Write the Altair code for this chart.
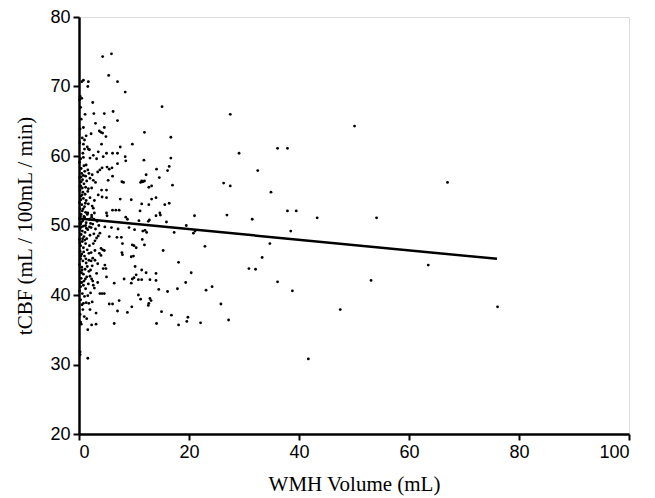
import altair as alt
import pandas as pd

# ---- scatter points: (WMH volume mL, tCBF) ----
sparse_pts = [
    (27.5,66.0),(50.1,64.3),(29.1,60.4),(36.1,61.1),(37.9,61.1),(32.5,57.9),(26.3,56.1),(27.5,55.7),
    (34.9,54.8),(21.0,51.4),(26.9,51.5),(31.5,50.9),(37.9,52.1),(39.5,52.1),(43.3,51.1),(19.5,50.0),
    (20.8,48.9),(21.1,49.2),(38.5,49.2),(22.9,47.0),(34.7,47.4),(33.3,45.4),(30.9,43.8),(32.1,43.7),
    (20.4,43.2),(36.1,41.9),(19.4,41.8),(23.1,40.7),(24.2,41.2),(38.8,40.6),(25.8,38.7),(47.5,37.9),
    (19.8,36.8),(19.6,36.2),(22.1,36.0),(27.2,36.4),(41.7,30.8),(67.0,56.2),(54.1,51.1),(63.5,44.3),
    (53.1,42.1),(76.1,38.3),
]
upper_pts = [
    (4.3,74.3),(5.9,74.7),(5.4,71.6),(7.0,70.7),(8.4,69.2),(2.5,67.7),(15.1,67.1),(2.7,66.1),(4.6,66.1),
    (6.2,66.4),(7.0,65.1),(3.0,64.7),(4.6,64.1),(4.0,63.4),(3.7,63.6),(4.3,63.3),(4.9,62.8),(2.2,63.2),
    (11.9,63.4),(16.7,62.7),(4.1,61.7),(9.7,61.7),(7.5,61.3),(2.6,60.1),(3.5,60.6),(5.0,60.4),(6.1,60.4),
    (7.0,60.4),(4.4,59.9),(2.0,59.7),(3.2,59.6),(8.4,59.9),(8.5,59.3),(11.8,59.4),(16.7,59.7),(7.0,58.9),
    (16.4,58.5),(16.1,57.9),(14.1,58.1),(4.2,58.3),(3.8,58.0),(3.4,57.7),(5.1,58.4),(6.0,58.3),(5.5,58.1),
    (6.1,57.1),(12.2,57.3),(14.6,56.9),(2.0,56.8),(2.6,56.5),(3.0,56.2),(5.3,56.5),(7.8,56.3),(8.1,56.2),
    (11.6,56.3),(11.9,56.4),(13.2,55.7),(17.0,55.8),(11.4,56.4),(11.2,56.2),(13.2,53.8),
    (0.8,70.9),(0.5,70.7),(1.7,70.7),(1.6,70.0),(0.2,68.6),(0.5,68.3),(0.1,68.1),(1.1,66.0),(0.8,64.1),
    (1.3,62.9),(1.0,62.3),(0.8,61.7),(1.5,61.3),(1.7,61.0),(1.9,60.9),(1.0,61.0),(0.7,60.4),(0.8,59.8),
    (0.3,59.6),(1.3,58.7),(0.5,57.5),(0.8,57.2),(0.4,57.0),(1.2,57.1),(0.3,55.7),(0.6,55.4),(1.2,55.5),
    (1.7,55.3),(2.3,55.4),
]
middle_pts = [
    (12.7,55.5),(4.1,55.1),(5.0,55.1),(3.5,54.4),(4.2,54.1),(5.0,54.0),(7.5,53.8),(9.5,53.7),(11.4,53.1),
    (12.7,53.0),(14.0,54.0),(15.6,53.0),(16.4,53.2),(6.1,52.2),(6.7,52.2),(7.3,52.2),(5.0,51.8),(5.1,51.4),
    (11.1,52.1),(14.0,51.4),(14.7,51.8),(14.8,51.5),(8.5,51.2),(8.8,50.9),(10.9,50.7),(12.8,50.8),(12.6,50.6),
    (15.9,50.5),(17.3,49.0),(4.7,49.8),(5.9,49.7),(7.1,49.5),(9.1,49.7),(10.1,49.4),(12.0,49.3),(12.3,49.0),
    (11.6,49.2),(3.8,48.9),(3.5,48.5),(3.2,48.2),(2.9,47.8),(2.6,47.4),(5.5,48.4),(6.9,48.3),(7.7,48.3),
    (7.9,47.4),(11.5,48.0),(11.9,47.2),(9.7,47.2),(10.0,47.1),(10.4,46.8),(15.3,46.4),(4.0,46.7),(4.3,46.5),
    (4.6,46.4),(3.7,46.0),(4.0,45.7),(7.8,46.1),(7.9,45.8),(9.9,45.6),(9.5,45.5),(18.1,44.7),(2.5,45.3),
    (2.9,45.0),(2.2,44.9),(4.7,44.3),(4.9,43.8),(4.4,43.8),(10.2,44.1),(11.4,43.6),(12.2,43.2),(14.0,43.1),
]
lower_pts = [
    (1.8,43.4),(2.0,42.7),(2.5,42.0),(2.3,42.3),(5.0,42.6),(10.4,42.9),(10.0,42.5),(9.7,42.3),(10.8,42.2),
    (11.4,42.2),(8.2,42.3),(12.9,42.2),(14.0,42.1),(6.4,41.7),(9.5,41.7),(0.5,41.8),(0.8,41.4),(0.3,41.2),
    (2.6,41.4),(14.5,40.8),(16.1,40.5),(17.9,40.9),(3.8,40.2),(4.2,40.2),(4.6,40.2),(10.8,40.0),(11.2,39.4),
    (12.9,39.5),(13.1,39.2),(12.7,38.8),(12.6,38.5),(7.3,39.2),(9.6,38.3),(5.5,38.7),(6.1,38.7),(0.8,38.8),
    (1.3,38.9),(1.8,38.8),(2.4,39.0),(7.0,37.7),(8.8,37.5),(15.0,37.6),(16.8,37.1),(3.1,37.4),(1.4,36.6),
    (0.3,36.1),(0.4,35.8),(2.3,35.7),(3.1,35.8),(6.4,35.9),(14.1,35.9),(18.1,35.7),(1.6,35.0),(0.2,31.8),
    (0.2,31.4),(1.6,30.9),
]
dense_pts = [
    (0.1,56.9),(0.4,56.3),(0.9,56.0),(1.4,56.4),(0.2,55.1),(0.7,54.8),(1.1,54.5),(1.6,54.9),(0.3,54.2),
    (0.8,53.9),(1.3,53.6),(2.0,54.0),(0.1,53.3),(0.5,53.0),(1.0,52.7),(1.7,53.1),(2.4,52.8),(0.2,52.4),
    (0.6,52.1),(1.2,51.9),(0.4,51.6),(0.9,51.3),(1.5,51.6),(0.1,51.0),(0.7,50.7),(1.3,50.4),(1.9,50.9),
    (2.3,51.2),(0.3,50.2),(0.8,49.9),(2.1,50.3),(0.2,49.5),(0.6,49.2),(1.1,49.0),(1.6,49.4),(0.4,48.7),
    (0.9,48.4),(1.4,48.1),(2.0,48.6),(0.1,48.0),(0.6,47.7),(1.2,47.4),(0.3,47.1),(0.8,46.8),(1.5,46.5),
    (0.2,46.3),(0.5,45.9),(1.0,45.6),(1.8,46.0),(0.3,45.2),(0.7,44.9),(1.3,44.6),(0.1,44.4),(0.5,44.0),
    (1.1,43.7),(0.2,43.3),(0.8,43.0),(1.4,42.6),(0.4,42.4),(0.9,42.0),(0.1,40.6),(0.6,40.2),(1.0,39.8),
    (0.3,39.3),(0.7,37.9),(0.2,37.2),(1.2,40.9),(1.7,41.6),(1.5,44.1),(1.9,47.1),(2.2,49.7),(2.6,52.5),
    (2.8,53.6),(2.2,46.1),(1.8,45.0),(2.1,43.6),(1.6,39.9),(0.4,58.2),(0.9,58.6),(0.1,59.1),(1.6,58.0),
    (2.4,57.3),(1.8,57.5),(0.6,62.6),(0.2,63.9),(0.4,65.3),(0.3,67.0),
    (1.0,51.2),(1.6,51.8),(2.3,51.5),(2.7,50.9),(2.5,50.2),(1.9,49.8),(1.2,50.0),
    (2.8,51.8),(3.3,50.6),(3.0,49.5),(2.7,48.8),(3.6,50.0),(2.9,46.4),(2.4,44.2),(3.4,44.5),(3.2,43.1),
    (2.8,41.0),(3.4,41.8),(2.1,40.3),(2.0,37.9),
    (0.15,55.6),(0.35,53.7),(0.25,51.3),(0.45,49.8),(0.15,47.5),(0.35,45.6),(0.55,43.6),(0.25,41.8),
    (0.65,56.6),(0.55,54.4),(0.75,52.4),(0.45,50.5),(0.65,48.1),(0.85,46.2),(0.45,43.2),(0.55,38.6),
    (1.05,57.8),(1.15,53.2),(1.35,49.6),(1.05,47.9),(1.25,45.2),(1.15,42.3),(0.95,36.9),(0.15,61.9),
]

all_pts = sparse_pts + upper_pts + middle_pts + lower_pts + dense_pts
wmh = [p[0] for p in all_pts]
tcbf = [p[1] for p in all_pts]

# regression line end points
fit_x = [0, 76]
fit_y = [51.0, 45.2]

x_ticks = [0, 20, 40, 60, 80, 100]
y_ticks = [20, 30, 40, 50, 60, 70, 80]

pts = pd.DataFrame({"wmh": wmh, "tcbf": tcbf})
fit = pd.DataFrame({"wmh": fit_x, "tcbf": fit_y})

xs = alt.Scale(domain=[0, 100], nice=False, zero=False)
ys = alt.Scale(domain=[20, 80], nice=False, zero=False)

scatter = alt.Chart(pts).mark_circle(size=8, color="black", opacity=1).encode(
    x=alt.X("wmh:Q", scale=xs, axis=alt.Axis(values=x_ticks, title="WMH Volume (mL)", titlePadding=12)),
    y=alt.Y("tcbf:Q", scale=ys, axis=alt.Axis(values=y_ticks, title="tCBF (mL / 100mL / min)", titlePadding=14)),
)
line = alt.Chart(fit).mark_line(color="black", strokeWidth=2.5).encode(
    x=alt.X("wmh:Q", scale=xs),
    y=alt.Y("tcbf:Q", scale=ys),
)

chart = alt.layer(scatter, line).properties(
    width=550, height=417,
    autosize=alt.AutoSizeParams(type="none"),
    padding={"left": 71, "top": 9, "right": 10, "bottom": 62},
).configure_view(stroke=None).configure(background="white").configure_axis(
    grid=False,
    titleFont="Liberation Serif", titleFontSize=21, titleFontWeight="normal", titleColor="black",
    labelFont="Liberation Sans", labelFontSize=18, labelColor="black", labelPadding=3,
    domainColor="black", domainWidth=2.5, tickColor="black", tickWidth=2, tickSize=6,
)

chart.save("out.html", embed_options={"renderer": "svg", "actions": False})
